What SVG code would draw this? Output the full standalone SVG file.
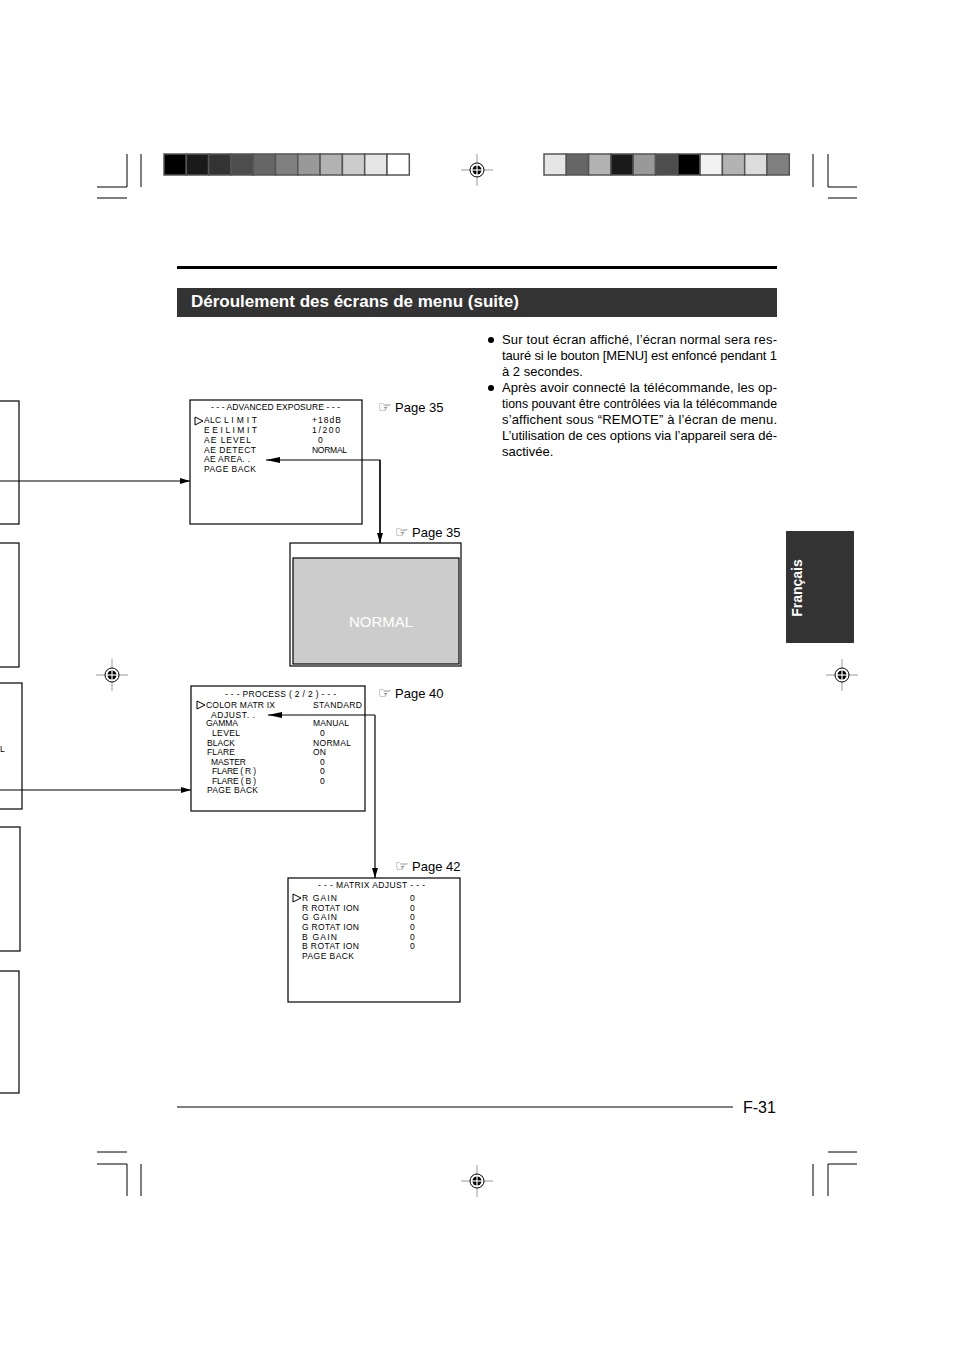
<svg xmlns="http://www.w3.org/2000/svg" width="954" height="1351" viewBox="0 0 954 1351">
<defs>
<style>
.m{font-family:"Liberation Sans",Arial,sans-serif;font-size:8.5px;fill:#000}
.b{font-family:"Liberation Sans",Arial,sans-serif;font-size:13px;fill:#000}
.box{fill:#fff;stroke:#000;stroke-width:1.2}
.ln{fill:none;stroke:#000;stroke-width:1.2}
.crop{stroke:#000;stroke-width:1;fill:none}
.tri{fill:#fff;stroke:#000;stroke-width:1}
.hand{font-family:"DejaVu Sans",sans-serif;font-size:15px;fill:#333}
.sq{stroke:#555;stroke-width:1.5}
</style>
<marker id="ah" viewBox="0 0 10 6" refX="10" refY="3" markerWidth="10" markerHeight="6" markerUnits="userSpaceOnUse" orient="auto"><path d="M0,0 L10,3 L0,6 Z" fill="#000"/></marker>
<marker id="ahl" viewBox="0 0 14 6" refX="14" refY="3" markerWidth="14" markerHeight="6" markerUnits="userSpaceOnUse" orient="auto"><path d="M0,0 L14,3 L0,6 Z" fill="#000"/></marker>
<g id="reg">
<line x1="-16" y1="0" x2="16" y2="0" stroke="#999" stroke-width="1"/>
<line x1="0" y1="-16" x2="0" y2="16" stroke="#999" stroke-width="1"/>
<circle r="7" fill="#fff" stroke="#000" stroke-width="1"/>
<circle r="4.5" fill="#000"/>
<line x1="-5" y1="0" x2="5" y2="0" stroke="#fff" stroke-width="1.2"/>
<line x1="0" y1="-5" x2="0" y2="5" stroke="#fff" stroke-width="1.2"/>
</g>
</defs>
<rect width="954" height="1351" fill="#fff"/>

<g id="colorbar-left">
<rect class="sq" x="164" y="154" width="22.3" height="21" fill="#000"/>
<rect class="sq" x="186.3" y="154" width="22.3" height="21" fill="#1a1a1a"/>
<rect class="sq" x="208.6" y="154" width="22.3" height="21" fill="#333"/>
<rect class="sq" x="230.9" y="154" width="22.3" height="21" fill="#4d4d4d"/>
<rect class="sq" x="253.2" y="154" width="22.3" height="21" fill="#666"/>
<rect class="sq" x="275.5" y="154" width="22.3" height="21" fill="#808080"/>
<rect class="sq" x="297.8" y="154" width="22.3" height="21" fill="#999"/>
<rect class="sq" x="320.1" y="154" width="22.3" height="21" fill="#b3b3b3"/>
<rect class="sq" x="342.4" y="154" width="22.3" height="21" fill="#ccc"/>
<rect class="sq" x="364.7" y="154" width="22.3" height="21" fill="#e6e6e6"/>
<rect class="sq" x="387" y="154" width="22.3" height="21" fill="#fff"/>
</g>
<g id="colorbar-right">
<rect class="sq" x="544" y="154" width="22.3" height="21" fill="#e6e6e6"/>
<rect class="sq" x="566.3" y="154" width="22.3" height="21" fill="#666"/>
<rect class="sq" x="588.6" y="154" width="22.3" height="21" fill="#b3b3b3"/>
<rect class="sq" x="610.9" y="154" width="22.3" height="21" fill="#1a1a1a"/>
<rect class="sq" x="633.2" y="154" width="22.3" height="21" fill="#999"/>
<rect class="sq" x="655.5" y="154" width="22.3" height="21" fill="#4d4d4d"/>
<rect class="sq" x="677.8" y="154" width="22.3" height="21" fill="#000"/>
<rect class="sq" x="700.1" y="154" width="22.3" height="21" fill="#f2f2f2"/>
<rect class="sq" x="722.4" y="154" width="22.3" height="21" fill="#b3b3b3"/>
<rect class="sq" x="744.7" y="154" width="22.3" height="21" fill="#dcdcdc"/>
<rect class="sq" x="767" y="154" width="22.3" height="21" fill="#808080"/>
</g>

<g id="cropmarks">
<path class="crop" d="M127,154 V187 H97 M141,154 V187 M97,198 H127"/>
<path class="crop" d="M813,154 V187 M828,154 V187 H857 M828,198 H857"/>
<path class="crop" d="M97,1152 H127 M97,1164 H127 V1196 M141,1164 V1196"/>
<path class="crop" d="M828,1152 H857 M857,1164 H828 V1196 M813,1164 V1196"/>
</g>
<g id="registration">
<use href="#reg" x="477" y="170"/>
<use href="#reg" x="477" y="1181"/>
<use href="#reg" x="112" y="675"/>
<use href="#reg" x="842" y="675"/>
</g>

<g id="header">
<rect x="177" y="266" width="600" height="3" fill="#000"/>
<rect x="177" y="288" width="600" height="29" fill="#333"/>
<text x="191" y="307" font-family="Liberation Sans,Arial,sans-serif" font-size="17" font-weight="bold" fill="#fff">Déroulement des écrans de menu (suite)</text>
</g>

<g id="tab">
<rect x="786" y="531" width="68" height="112" fill="#333"/>
<text transform="translate(802,588) rotate(-90)" text-anchor="middle" font-family="Liberation Sans,Arial,sans-serif" font-size="14" font-weight="bold" fill="#fff">Français</text>
</g>

<g id="footer">
<line x1="177" y1="1107" x2="733" y2="1107" stroke="#000" stroke-width="1"/>
<text x="743" y="1113" font-family="Liberation Sans,Arial,sans-serif" font-size="16" fill="#000">F-31</text>
</g>

<g id="notes">
<circle cx="491" cy="340" r="3" fill="#000"/>
<text class="b" x="502" y="344" textLength="275" lengthAdjust="spacing">Sur tout écran affiché, l’écran normal sera res-</text>
<text class="b" x="502" y="360" textLength="275" lengthAdjust="spacing">tauré si le bouton [MENU] est enfoncé pendant 1</text>
<text class="b" x="502" y="376">à 2 secondes.</text>
<circle cx="491" cy="388" r="3" fill="#000"/>
<text class="b" x="502" y="392" textLength="275" lengthAdjust="spacing">Après avoir connecté la télécommande, les op-</text>
<text class="b" x="502" y="408" textLength="275" lengthAdjust="spacingAndGlyphs">tions pouvant être contrôlées via la télécommande</text>
<text class="b" x="502" y="424" textLength="275" lengthAdjust="spacing">s’affichent sous “REMOTE” à l’écran de menu.</text>
<text class="b" x="502" y="440" textLength="275" lengthAdjust="spacing">L’utilisation de ces options via l’appareil sera dé-</text>
<text class="b" x="502" y="456">sactivée.</text>
</g>

<g id="left-boxes">
<rect class="box" x="-5" y="401" width="24" height="123"/>
<rect class="box" x="-5" y="543" width="24" height="124"/>
<rect class="box" x="-5" y="683" width="27" height="126"/>
<text class="m" x="0" y="752" font-size="6">L</text>
<rect class="box" x="-5" y="827" width="25" height="124"/>
<rect class="box" x="-5" y="971" width="24" height="122"/>
</g>

<g id="advanced-exposure">
<rect class="box" x="190" y="400" width="172" height="124"/>
<text class="m" x="211" y="410" textLength="129" lengthAdjust="spacing">- - - ADVANCED EXPOSURE - - -</text>
<polygon class="tri" points="195,417 203,421 195,425"/>
<text class="m" x="204" y="423" textLength="53" lengthAdjust="spacing">ALC  L I M I T</text>
<text class="m" x="204" y="433" textLength="53" lengthAdjust="spacing">E E I   L I M I T</text>
<text class="m" x="204" y="443" textLength="47" lengthAdjust="spacing">AE  LEVEL</text>
<text class="m" x="204" y="453" textLength="52" lengthAdjust="spacing">AE  DETECT</text>
<text class="m" x="204" y="462" textLength="46" lengthAdjust="spacing">AE  AREA. .</text>
<text class="m" x="204" y="472" textLength="52" lengthAdjust="spacing">PAGE  BACK</text>
<text class="m" x="312" y="423" textLength="29" lengthAdjust="spacing">+18dB</text>
<text class="m" x="312" y="433" textLength="28" lengthAdjust="spacing">1/200</text>
<text class="m" x="318" y="443">0</text>
<text class="m" x="312" y="453" textLength="35" lengthAdjust="spacing">NORMAL</text>
</g>

<g id="normal-screen">
<rect class="box" x="290" y="543" width="171" height="123"/>
<rect x="293" y="558" width="166" height="106" fill="#ccc" stroke="#000" stroke-width="1.2"/>
<text x="381" y="627" text-anchor="middle" font-family="Liberation Sans,Arial,sans-serif" font-size="15" fill="#fff">NORMAL</text>
</g>

<g id="process">
<rect class="box" x="191" y="686" width="174" height="125"/>
<text class="m" x="225" y="697" textLength="111" lengthAdjust="spacing">- - -   PROCESS ( 2 / 2 )   - - -</text>
<polygon class="tri" points="197,701 205,705 197,709"/>
<text class="m" x="206" y="708" textLength="69" lengthAdjust="spacing">COLOR  MATR IX</text>
<text class="m" x="211" y="718" textLength="44" lengthAdjust="spacing">ADJUST. .</text>
<text class="m" x="206" y="726" textLength="32" lengthAdjust="spacing">GAMMA</text>
<text class="m" x="212" y="736" textLength="28" lengthAdjust="spacing">LEVEL</text>
<text class="m" x="207" y="746" textLength="28" lengthAdjust="spacing">BLACK</text>
<text class="m" x="207" y="755" textLength="28" lengthAdjust="spacing">FLARE</text>
<text class="m" x="211" y="765" textLength="35" lengthAdjust="spacing">MASTER</text>
<text class="m" x="212" y="774" textLength="44" lengthAdjust="spacing">FLARE ( R )</text>
<text class="m" x="212" y="784" textLength="44" lengthAdjust="spacing">FLARE ( B )</text>
<text class="m" x="207" y="793" textLength="51" lengthAdjust="spacing">PAGE  BACK</text>
<text class="m" x="313" y="708" textLength="49" lengthAdjust="spacing">STANDARD</text>
<text class="m" x="313" y="726" textLength="36" lengthAdjust="spacing">MANUAL</text>
<text class="m" x="320" y="736">0</text>
<text class="m" x="313" y="746" textLength="38" lengthAdjust="spacing">NORMAL</text>
<text class="m" x="313" y="755" textLength="13" lengthAdjust="spacing">ON</text>
<text class="m" x="320" y="765">0</text>
<text class="m" x="320" y="774">0</text>
<text class="m" x="320" y="784">0</text>
</g>

<g id="matrix-adjust">
<rect class="box" x="288" y="878" width="172" height="124"/>
<text class="m" x="318" y="888" textLength="107" lengthAdjust="spacing">- - - MATRIX  ADJUST - - -</text>
<polygon class="tri" points="293,894 301,898 293,902"/>
<text class="m" x="302" y="901" textLength="35" lengthAdjust="spacing">R  GAIN</text>
<text class="m" x="302" y="911" textLength="57" lengthAdjust="spacing">R  ROTAT ION</text>
<text class="m" x="302" y="920" textLength="35" lengthAdjust="spacing">G  GAIN</text>
<text class="m" x="302" y="930" textLength="57" lengthAdjust="spacing">G  ROTAT ION</text>
<text class="m" x="302" y="940" textLength="35" lengthAdjust="spacing">B  GAIN</text>
<text class="m" x="302" y="949" textLength="57" lengthAdjust="spacing">B  ROTAT ION</text>
<text class="m" x="302" y="959" textLength="52" lengthAdjust="spacing">PAGE  BACK</text>
<text class="m" x="410" y="901">0</text>
<text class="m" x="410" y="911">0</text>
<text class="m" x="410" y="920">0</text>
<text class="m" x="410" y="930">0</text>
<text class="m" x="410" y="940">0</text>
<text class="m" x="410" y="949">0</text>
</g>

<g id="page-refs">
<text class="hand" x="378" y="412">☞</text><text class="b" x="395" y="412">Page 35</text>
<text class="hand" x="395" y="537">☞</text><text class="b" x="412" y="537">Page 35</text>
<text class="hand" x="378" y="698">☞</text><text class="b" x="395" y="698">Page 40</text>
<text class="hand" x="395" y="871">☞</text><text class="b" x="412" y="871">Page 42</text>
</g>

<g id="connectors">
<line class="ln" x1="0" y1="481" x2="190" y2="481" marker-end="url(#ah)"/>
<line class="ln" x1="0" y1="790" x2="191" y2="790" marker-end="url(#ah)"/>
<path class="ln" d="M380,543 V460 H266" marker-end="url(#ahl)"/>
<path class="ln" d="M380,460 V543" marker-end="url(#ah)"/>
<path class="ln" d="M375,715 H268" marker-end="url(#ahl)"/>
<path class="ln" d="M375,715 V878" marker-end="url(#ah)"/>
</g>
</svg>
